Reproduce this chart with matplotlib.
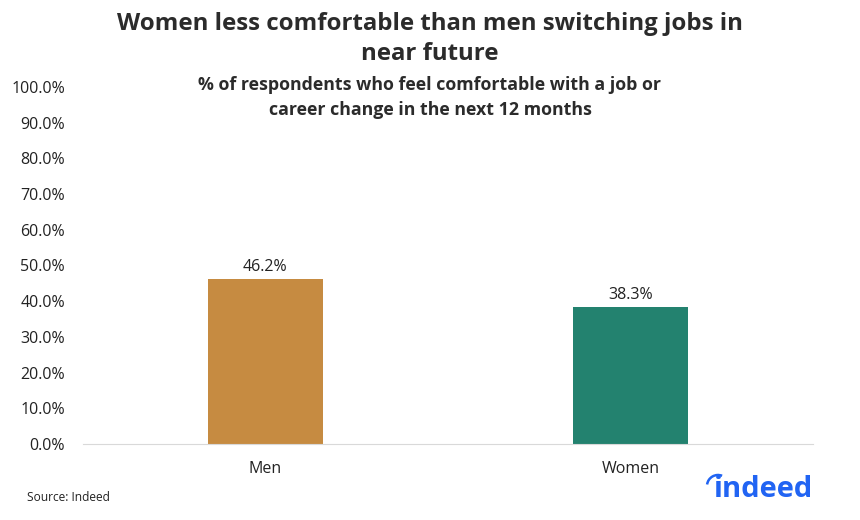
import matplotlib.pyplot as plt
from matplotlib.patches import Arc
from matplotlib.ticker import FuncFormatter

plt.rcParams['font.family'] = ['Open Sans', 'DejaVu Sans']

# datos
categorias = ["Men", "Women"]
valores = [46.2, 38.3]
colores = ["#C68B41", "#23826F"]

fig = plt.figure(figsize=(8.6, 5.2), dpi=100)
ax = fig.add_axes([0.0965, 0.1462, 0.8485, 0.6865])

pos = list(range(len(categorias)))
barras = ax.bar(pos, valores, width=0.315, color=colores)

# etiquetas encima de las barras
for b, v in zip(barras, valores):
    ax.text(b.get_x() + b.get_width() / 2, v + 1.2, f"{v:.1f}%",
            ha="center", va="bottom", fontsize=11.5, color="#222222")

ax.set_xlim(-0.5, 1.5)
ax.set_ylim(0, 100)
ax.set_yticks(range(0, 101, 10))
ax.yaxis.set_major_formatter(FuncFormatter(lambda y, _: f"{y:.1f}%"))
ax.set_xticks(pos)
ax.set_xticklabels(categorias)
ax.tick_params(axis="both", length=0, labelsize=11.5, colors="#222222")
ax.tick_params(axis="x", pad=12)
ax.tick_params(axis="y", pad=13)

for s in ["top", "right", "left"]:
    ax.spines[s].set_visible(False)
ax.spines["bottom"].set_color("#D9D9D9")

# titulos
fig.text(0.5, 0.976, "Women less comfortable than men switching jobs in\nnear future",
         ha="center", va="top", fontsize=17.3, fontweight="bold",
         color="#2B2B2B", linespacing=1.3)
fig.text(0.5, 0.853, "% of respondents who feel comfortable with a job or\ncareer change in the next 12 months",
         ha="center", va="top", fontsize=12.8, fontweight="bold",
         color="#2B2B2B", linespacing=1.45)

fig.text(0.031, 0.044, "Source: Indeed", fontsize=8.6, color="#222222", va="center")

# logo indeed
fig.text(0.9453, 0.058, "indeed", ha="right", va="center", fontsize=21,
         fontweight="bold", color="#2164F3")
capa = fig.add_axes([0, 0, 1, 1])
capa.set_xlim(0, 860)
capa.set_ylim(0, 520)
capa.axis("off")
capa.add_patch(Arc((718, 34), 22, 22, theta1=68, theta2=172, color="#2164F3", lw=1.8))

plt.savefig("out.png")
